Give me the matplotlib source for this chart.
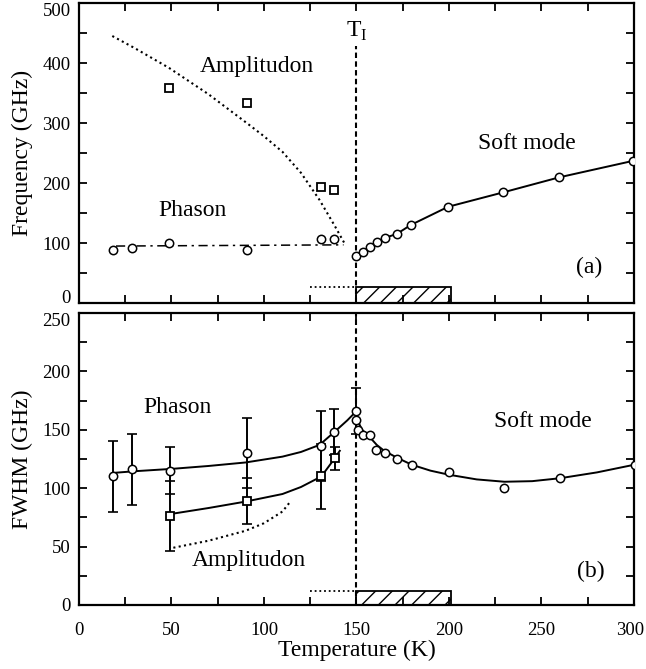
import matplotlib
matplotlib.use("Agg")
import matplotlib.pyplot as plt
from matplotlib.ticker import MultipleLocator
from matplotlib.transforms import ScaledTranslation

plt.rcParams['font.family'] = ['Liberation Serif', 'DejaVu Serif']
plt.rcParams['hatch.linewidth'] = 1.0
plt.rcParams['mathtext.fontset'] = 'custom'
plt.rcParams['mathtext.rm'] = 'Liberation Serif'

T_I = 150

# ---------- panel (a): frequency ----------
phason_T = [18.5, 28.8, 48.6, 90.8, 130.6, 137.8]
phason_F = [88, 91, 100, 88, 106, 107]
phason_fit_T = [20, 143]
phason_fit_F = [95, 97]

amp_T = [48.6, 90.6, 130.6, 137.8]
amp_F = [358, 333, 193, 189]
amp_fit_T = [18, 30, 48.6, 70, 90.7, 100, 110, 120, 130, 138, 144]
amp_fit_F = [445, 425, 392, 348, 300, 278, 252, 217, 172, 130, 97]

soft_T = [149.6, 153.3, 157.3, 160.9, 165.6, 171.7, 179.3, 199.6, 229.4, 259.6, 299.6]
soft_F = [78, 85.5, 94, 102, 109, 115, 130, 160.5, 184.5, 209.5, 237]

# ---------- panel (b): FWHM ----------
ph_w_T = [18.5, 28.8, 49.2, 90.6, 130.8, 138.0, 149.7]
ph_w = [110, 116, 115, 130, 136, 148, 166]
ph_w_err = [30, 30, 20, 30, 30, 20, 20]
ph_w_fit_T = [18, 30, 50, 70, 90, 110, 120, 130, 138, 145, 150]
ph_w_fit = [113, 114.5, 116.5, 119, 122, 127, 131, 137, 148, 158, 166]

am_w_T = [49.2, 91.0, 130.8, 138.4]
am_w = [76, 89, 110, 125.6]
am_w_err = [30, 20, 28, 10]
am_w_fit_T = [50, 70, 90, 110, 120, 131, 138, 141]
am_w_fit = [78, 83, 88.5, 95, 101, 110, 125, 132]
am_w_dot_T = [51, 70, 90, 100, 110, 114]
am_w_dot = [49, 55, 63.5, 70, 80, 88]

sm_w_T = [149.7, 151, 153.3, 157.3, 160.5, 165.4, 172, 180, 200, 230, 260, 300.5]
sm_w = [158, 150, 145.5, 145.5, 133, 130, 125, 120, 113.6, 100, 109, 120]
sm_w_fit_T = [150, 153, 157, 161, 165, 172, 180, 190, 200, 215, 230, 245, 260, 280, 300]
sm_w_fit = [160, 150, 144, 137, 132, 126, 120, 115, 111.5, 107.5, 105.5, 106, 108.5, 113.5, 120]

# hatched range and dotted indicator
box_left, box_width = 150, 51
box_h_a, box_h_b = 27, 12
ind_T = [125, 150]

fig = plt.figure(figsize=(6.46, 6.69), dpi=100)
axa = fig.add_axes([0.1223, 0.547, 0.859, 0.4485])
axb = fig.add_axes([0.1223, 0.0957, 0.859, 0.4365])

circ = dict(marker='o', ms=6, mfc='white', mec='black', mew=1.1, ls='none', zorder=5)
sq = dict(marker='s', ms=6, mfc='white', mec='black', mew=1.3, ls='none', zorder=5)
dotted = (0, (1, 1.6))
dashdot = (0, (6, 3, 1.5, 3))
dashed = (0, (2.6, 1.6))
TXT = 17

# panel a
axa.plot(phason_fit_T, phason_fit_F, color='black', lw=1.1, ls=dashdot, zorder=2)
axa.plot(amp_fit_T, amp_fit_F, color='black', lw=1.5, ls=dotted, zorder=2)
axa.plot(soft_T, soft_F, color='black', lw=1.4, zorder=3)
axa.plot(phason_T, phason_F, **circ)
axa.plot(amp_T, amp_F, **sq)
axa.plot(soft_T, soft_F, **circ)
axa.plot([T_I, T_I], [0, 428], color='black', lw=1.5, ls=dashed, zorder=1)
axa.bar([box_left], [box_h_a], width=box_width, align='edge', fill=False,
        hatch='//', edgecolor='black', lw=1.3, zorder=4)
axa.plot(ind_T, [box_h_a, box_h_a], color='black', lw=1.3, ls=dotted)
axa.text(T_I, 452, r'T$_\mathregular{I}$', fontsize=TXT, ha='center', va='center')
axa.text(96, 395, 'Amplitudon', fontsize=TXT, ha='center', va='center')
axa.text(61.5, 155, 'Phason', fontsize=TXT, ha='center', va='center')
axa.text(242, 266, 'Soft mode', fontsize=TXT, ha='center', va='center')
axa.text(276, 60, '(a)', fontsize=TXT, ha='center', va='center')
axa.set_ylim(0, 500)
axa.set_ylabel('Frequency (GHz)', fontsize=17, labelpad=7)
axa.yaxis.set_major_locator(MultipleLocator(100))
axa.yaxis.set_minor_locator(MultipleLocator(50))

# panel b
axb.errorbar(ph_w_T, ph_w, yerr=ph_w_err, fmt='none', ecolor='black', elinewidth=1.4,
             capsize=3.5, capthick=1.2, zorder=4)
axb.errorbar(am_w_T, am_w, yerr=am_w_err, fmt='none', ecolor='black', elinewidth=1.4,
             capsize=3.5, capthick=1.2, zorder=4)
axb.plot(ph_w_fit_T, ph_w_fit, color='black', lw=1.4, zorder=3)
axb.plot(am_w_fit_T, am_w_fit, color='black', lw=1.4, zorder=3)
axb.plot(am_w_dot_T, am_w_dot, color='black', lw=1.5, ls=dotted, zorder=3)
axb.plot(sm_w_fit_T, sm_w_fit, color='black', lw=1.4, zorder=3)
axb.plot(ph_w_T, ph_w, **circ)
axb.plot(am_w_T, am_w, **sq)
axb.plot(sm_w_T, sm_w, **circ)
axb.plot([T_I, T_I], [0, 250], color='black', lw=1.5, ls=dashed, zorder=1)
axb.bar([box_left], [box_h_b], width=box_width, align='edge', fill=False,
        hatch='//', edgecolor='black', lw=1.3, zorder=4)
axb.plot(ind_T, [box_h_b, box_h_b], color='black', lw=1.3, ls=dotted)
axb.text(53, 168.7, 'Phason', fontsize=TXT, ha='center', va='center')
axb.text(91.6, 38.5, 'Amplitudon', fontsize=TXT, ha='center', va='center')
axb.text(250.7, 157, 'Soft mode', fontsize=TXT, ha='center', va='center')
axb.text(276.6, 29, '(b)', fontsize=TXT, ha='center', va='center')
axb.set_ylim(0, 250)
axb.set_ylabel('FWHM (GHz)', fontsize=17, labelpad=7)
axb.set_xlabel('Temperature (K)', fontsize=17, labelpad=1)
axb.yaxis.set_major_locator(MultipleLocator(50))
axb.yaxis.set_minor_locator(MultipleLocator(25))

for ax in (axa, axb):
    ax.set_xlim(0, 300)
    ax.xaxis.set_major_locator(MultipleLocator(50))
    ax.xaxis.set_minor_locator(MultipleLocator(25))
    ax.tick_params(which='both', direction='in', top=True, right=True, width=1.3)
    ax.tick_params(which='major', length=6)
    ax.tick_params(which='minor', length=6)
    ax.tick_params(axis='y', labelsize=13.5, pad=6)
    ax.tick_params(axis='x', labelsize=13.5, pad=12)
    for s in ax.spines.values():
        s.set_linewidth(1.6)
axa.tick_params(axis='x', labelbottom=False)

fig.canvas.draw()
for t in axa.yaxis.get_major_ticks():
    if abs(t.get_loc() - 500) < 1e-6:
        t.label1.set_va('top')
    if abs(t.get_loc() - 0) < 1e-6:
        t.label1.set_va('baseline')
for t in axb.yaxis.get_major_ticks():
    if abs(t.get_loc() - 250) < 1e-6:
        t.label1.set_va('top')
for t in axb.xaxis.get_major_ticks():
    if abs(t.get_loc() - 300) < 1e-6:
        t.label1.set_transform(t.label1.get_transform() +
                               ScaledTranslation(-3 / 72, 0, fig.dpi_scale_trans))

fig.savefig('out.png', dpi=100)
